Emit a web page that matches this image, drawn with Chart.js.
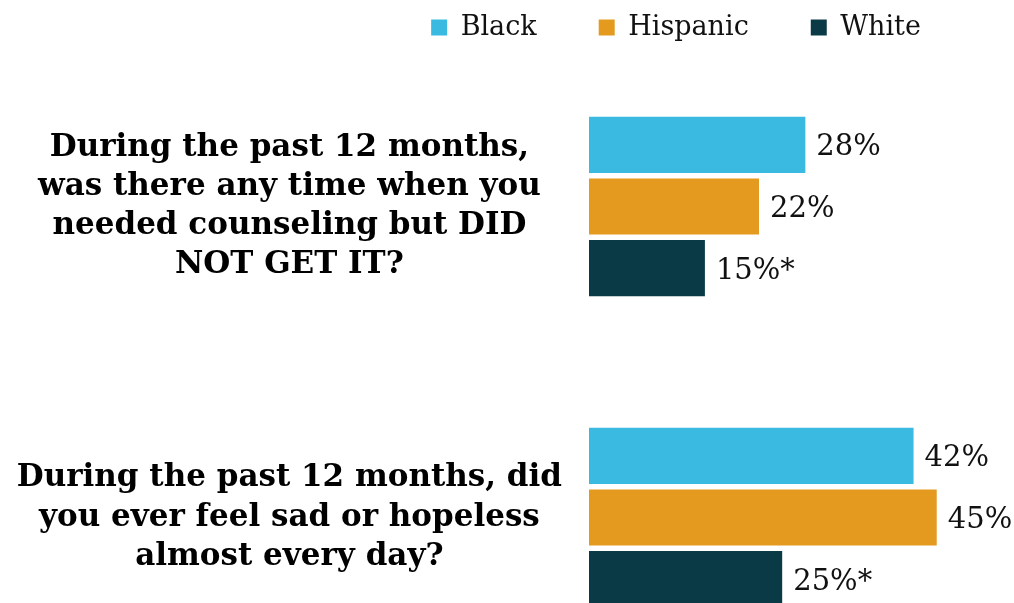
<!DOCTYPE html>
<html>
<head>
<meta charset="utf-8">
<script src="https://cdn.jsdelivr.net/npm/chart.js@4.4.1/dist/chart.umd.min.js"></script>
<style>
  html, body { margin: 0; padding: 0; background: #ffffff; overflow: hidden; }
  #wrap { position: relative; width: 1014px; height: 673px; }
</style>
</head>
<body>
<div id="wrap"><canvas id="c"></canvas></div>
<script>
const categories = [
  ["During the past 12 months,", "was there any time when you", "needed counseling but DID", "NOT GET IT?"],
  ["During the past 12 months, did", "you ever feel sad or hopeless", "almost every day?"]
];
const seriesNames = ["Black", "Hispanic", "White"];
const blackValues = [28, 42];
const hispanicValues = [22, 45];
const whiteValues = [15, 25];
const blackNotes = ["", ""];
const hispanicNotes = ["", ""];
const whiteNotes = ["*", "*"];
const seriesColors = ["#3BBAE1", "#E49A1E", "#0B3A47"];

const SERIF = "'DejaVu Serif', 'Liberation Serif', serif";

const valueLabels = {
  id: 'valueLabels',
  afterDatasetsDraw(chart) {
    const ctx = chart.ctx;
    const notes = [blackNotes, hispanicNotes, whiteNotes];
    ctx.save();
    ctx.font = "29px " + SERIF;
    ctx.fillStyle = "#111111";
    ctx.textAlign = "left";
    ctx.textBaseline = "middle";
    chart.data.datasets.forEach((ds, di) => {
      const meta = chart.getDatasetMeta(di);
      meta.data.forEach((el, i) => {
        ctx.fillText(ds.data[i] + "%" + notes[di][i], el.x + 11, el.y + 3);
      });
    });
    ctx.restore();
  }
};

const legendShift = {
  id: 'legendShift',
  afterLayout(chart) {
    const lg = chart.legend;
    if (!lg) return;
    const dx = 676 - (lg.left + lg.right) / 2;
    lg.left += dx;
    lg.right += dx;
    const pad = chart.options.plugins.legend.labels.padding;
    lg.top += (14 - pad);
  }
};

new Chart(document.getElementById('c'), {
  type: 'bar',
  data: {
    labels: categories,
    datasets: [
      { label: seriesNames[0], data: blackValues, backgroundColor: seriesColors[0] },
      { label: seriesNames[1], data: hispanicValues, backgroundColor: seriesColors[1] },
      { label: seriesNames[2], data: whiteValues, backgroundColor: seriesColors[2] }
    ]
  },
  options: {
    indexAxis: 'y',
    responsive: true,
    maintainAspectRatio: false,
    animation: false,
    categoryPercentage: 0.595,
    barPercentage: 0.91,
    layout: { padding: 0 },
    scales: {
      x: { display: false, min: 0, max: 55, grid: { display: false } },
      y: {
        grid: { display: false, drawTicks: false },
        border: { display: false },
        afterFit(scale) {
          scale.width = 589;
          scale.paddingTop = 0;
          scale.paddingBottom = 0;
        },
        ticks: {
          crossAlign: 'center',
          padding: 27,
          color: '#000000',
          font: { family: SERIF, size: 31, weight: 'bold', lineHeight: 1.26 }
        }
      }
    },
    plugins: {
      tooltip: { enabled: false },
      legend: {
        position: 'top',
        align: 'center',
        maxHeight: 51,
        labels: {
          boxWidth: 16,
          boxHeight: 16,
          padding: 62,
          color: '#111111',
          font: { family: SERIF, size: 27 }
        }
      }
    }
  },
  plugins: [valueLabels, legendShift]
});
</script>
</body>
</html>
